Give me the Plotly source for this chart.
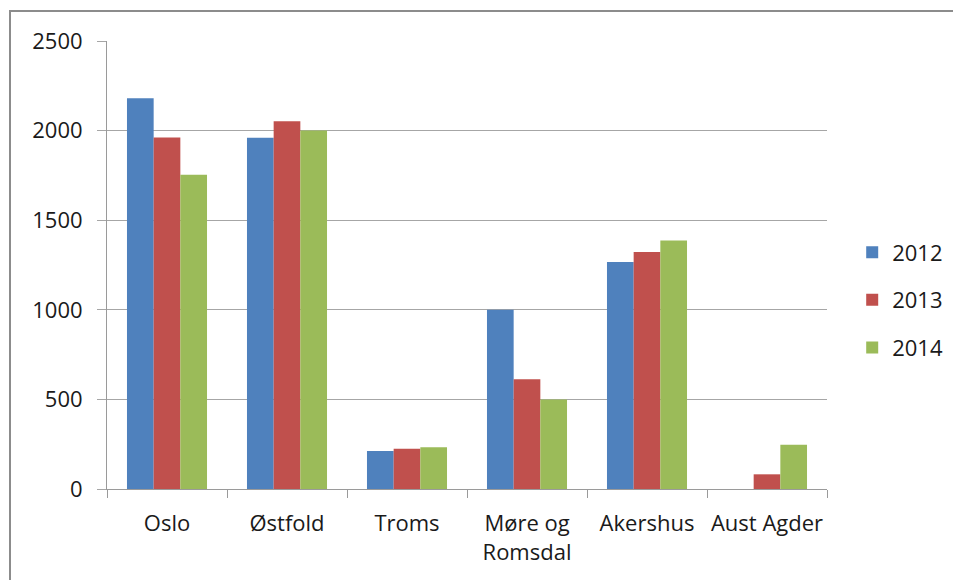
import plotly.graph_objects as go

categories = ["Oslo", "Østfold", "Troms", "Møre og<br>Romsdal", "Akershus", "Aust Agder"]
years = ["2012", "2013", "2014"]
values_2012 = [2180, 1960, 212, 1000, 1267, None]
values_2013 = [1961, 2052, 225, 612, 1323, 82]
values_2014 = [1753, 2000, 233, 500, 1387, 247]
y_ticks = [0, 500, 1000, 1500, 2000, 2500]

colors = ["#4F81BD", "#C0504D", "#9BBB59"]
series = [values_2012, values_2013, values_2014]

FONT = "Open Sans"
FS = 22
TXT = "#1a1a1a"
fig = go.Figure()
for name, vals, col in zip(years, series, colors):
    fig.add_trace(go.Bar(
        x=categories, y=vals, name=name,
        marker=dict(color=col, line=dict(width=0)),
        legendgroup=name,
    ))

# page body has an 8px margin, so the figure is offset by 8px
W, H = 953, 572
L, T = 99, 33
pw, ph = 720, 448
R = W - L - pw
B = H - T - ph

fig.update_layout(
    width=W, height=H,
    margin=dict(l=L, r=R, t=T, b=B, autoexpand=False),
    paper_bgcolor="white", plot_bgcolor="white",
    barmode="group", bargap=0.333, bargroupgap=0,
    font=dict(family=FONT, size=FS, color=TXT),
    showlegend=True,
    legend=dict(
        x=1.035, xanchor="left", y=0.422, yanchor="middle",
        font=dict(family=FONT, size=FS, color=TXT),
        traceorder="grouped", tracegroupgap=16,
        itemwidth=30, bgcolor="rgba(0,0,0,0)",
    ),
    xaxis=dict(
        showline=True, linecolor="#9a9a9a", linewidth=1,
        ticks="outside", ticklen=8, tickcolor="#9a9a9a", tickson="boundaries",
        ticklabelstandoff=15, tickangle=0, automargin=False,
        showgrid=False, tickfont=dict(family=FONT, size=FS, color=TXT),
    ),
    yaxis=dict(
        range=[0, 2500], tickvals=y_ticks,
        showgrid=True, gridcolor="#a6a6a6", gridwidth=1,
        showline=True, linecolor="#9a9a9a", linewidth=1,
        ticks="outside", ticklen=9, tickcolor="#a6a6a6",
        ticklabelstandoff=10, zeroline=False, automargin=False,
        tickfont=dict(family=FONT, size=FS, color=TXT),
    ),
    shapes=[dict(
        type="rect", xref="paper", yref="paper",
        x0=(2 - L) / pw, x1=(W + 30 - L) / pw,
        y0=(T + ph - (H + 30)) / ph, y1=(T + ph - 3) / ph,
        line=dict(color="#8c8c8c", width=2), fillcolor="rgba(0,0,0,0)",
        layer="below",
    )],
)

fig.write_html("out.html")
